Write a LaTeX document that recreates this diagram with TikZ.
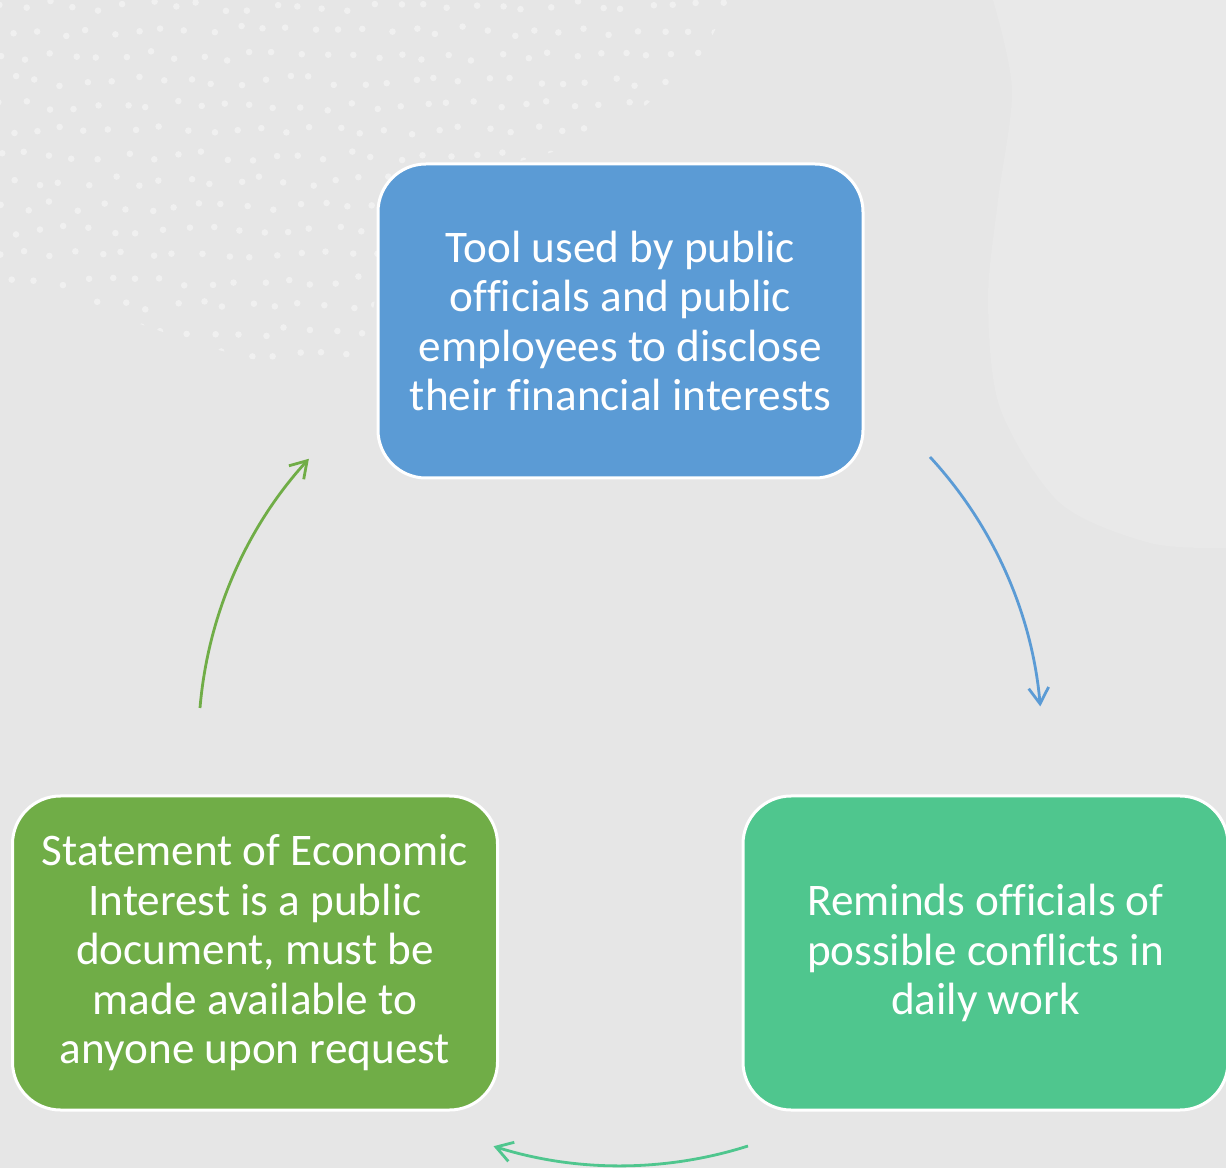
\documentclass[tikz,border=0pt]{standalone}
\usepackage{fontspec}
\setmainfont{Carlito}[Ligatures=CommonOff]
\usetikzlibrary{arrows.meta}
\definecolor{bgc}{HTML}{E6E6E6}
\definecolor{blobc}{HTML}{E9E9E9}
\definecolor{dotc}{HTML}{F0F0F0}
\definecolor{boxblue}{HTML}{5B9BD5}
\definecolor{boxgreen}{HTML}{70AD47}
\definecolor{boxteal}{HTML}{4FC68E}
\begin{document}
\begin{tikzpicture}[x=0.5pt,y=0.5pt,
  box/.style={draw=white, line width=1.5pt, rounded corners=24pt,
    minimum width=242.5pt, minimum height=157pt, align=center, text=white,
    font=\fontsize{22.6}{24.75}\selectfont, inner sep=0pt},
  flow/.style={line width=1.4pt, -{Straight Barb[length=8pt,width=10pt]}}]
\fill[bgc] (0,0) rectangle (1226,1168);
\useasboundingbox (0,0) rectangle (1226,1168);
% faint blob on the right
\fill[blobc] plot[smooth] coordinates {(993,1168) (1012,1078) (998,968) (988,868) (1000,760) (1060,665) (1150,625) (1226,620)} -- (1226,1168) -- cycle;
% dotted pattern
\begin{scope}
\clip (0,1168) -- (730,1168) -- (700,1108) -- (640,1058) -- (560,1018) -- (470,993) -- (420,958) -- (380,918) -- (375,868) -- (360,796) -- (300,796) -- (200,823) -- (100,858) -- (0,888) -- cycle;
\pgfmathsetseed{7}
\foreach \i in {0,...,29}{
  \foreach \j in {0,...,15}{
    \pgfmathsetmacro{\dx}{5*rand}
    \pgfmathsetmacro{\dy}{5*rand}
    \pgfmathsetmacro{\px}{\i*25+mod(\j,2)*12.5+\dx}
    \pgfmathsetmacro{\py}{1168-\j*25-6+\dy}
    \fill[dotc] (\px,\py) circle[radius=3.3];
  }
}
\end{scope}
% boxes
\node[box, fill=boxblue] (top) at (620.5,847) {Tool used by public\\officials and public\\employees to disclose\\their financial interests};
\node[box, fill=boxteal] (right) at (985.5,215) {Reminds officials of\\possible conflicts in\\daily work};
\node[box, fill=boxgreen] (left) at (255,215) {Statement of Economic\\Interest is a public\\document, must be\\made available to\\anyone upon request};
% arrows along the cycle
\coordinate (a1) at (930,711);
\coordinate (a2) at (748,22);
\coordinate (a3) at (200,460);
\draw[flow, boxblue] (a1) arc[start angle=42.7, end angle=5, radius=422];
\draw[flow, boxteal] (a2) arc[start angle=-72.4, end angle=-107.5, radius=422];
\draw[flow, boxgreen] (a3) arc[start angle=175.2, end angle=137.6, radius=422];
\end{tikzpicture}
\end{document}
